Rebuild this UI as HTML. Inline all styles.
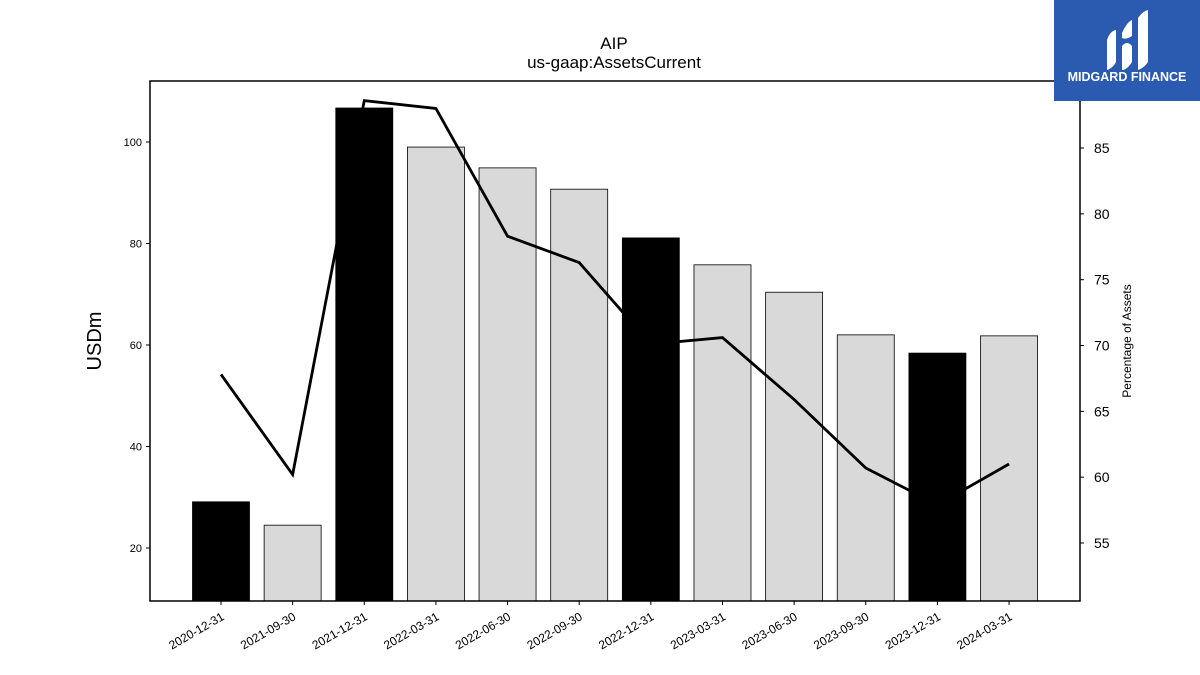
<!DOCTYPE html>
<html><head><meta charset="utf-8"><style>
body{margin:0;background:#fff;font-family:"Liberation Sans","DejaVu Sans",sans-serif}
svg{display:block}
</style></head><body>
<svg id="chart" width="1200" height="675" xmlns="http://www.w3.org/2000/svg">
<text x="614" y="49" text-anchor="middle" font-size="17">AIP</text>
<text x="614" y="68" text-anchor="middle" font-size="17">us-gaap:AssetsCurrent</text>
<text transform="translate(101,341) rotate(-90)" text-anchor="middle" font-size="20">USDm</text>
<text transform="translate(1131,341) rotate(-90)" text-anchor="middle" font-size="12">Percentage of Assets</text>
<g id="bars"></g><g id="line"></g><g id="axes"></g>
<rect x="150" y="81" width="930" height="520" fill="none" stroke="#000" stroke-width="1.5"/>
<g>
<rect x="1054" y="0" width="146" height="101" fill="#2b5bb0"/>
<path d="M1107 40 Q1110 31 1116 30 L1116 62 Q1113 68 1107 70 Z" fill="#fff"/>
<path d="M1122 33 Q1127 22 1132 20 L1132 36 Q1126 40 1122 38 Z M1122 46 Q1127 40 1132 46 L1132 62 Q1127 70 1122 70 Z" fill="#fff"/>
<path d="M1138 18 Q1143 11 1148 10 L1148 62 Q1144 68 1138 70 Z" fill="#fff"/>
<text x="1127" y="81" text-anchor="middle" font-size="12.5" font-weight="bold" fill="#fff">MIDGARD FINANCE</text>
</g>
</svg>
<script>
const categories=["2020-12-31","2021-09-30","2021-12-31","2022-03-31","2022-06-30","2022-09-30","2022-12-31","2023-03-31","2023-06-30","2023-09-30","2023-12-31","2024-03-31"];
const barValues=[29.1,24.5,106.7,99.0,94.9,90.7,81.1,75.8,70.4,62.0,58.4,61.8];
const annual=[true,false,true,false,false,false,true,false,false,false,true,false];
const pctValues=[67.8,60.2,88.6,88.0,78.3,76.3,70.1,70.6,65.9,60.7,57.9,61.0];
const leftTicks=[20,40,60,80,100];
const rightTicks=[55,60,65,70,75,80,85];
const NS="http://www.w3.org/2000/svg";
const X0=150,X1=1080,Y0=81,Y1=601;
const yL=v=>548-(v-20)*5.075;
const yR=v=>148-(v-85)*13.167;
const xC=i=>221+i*71.64;
const bw=57;
function mk(tag,attrs,parent){const e=document.createElementNS(NS,tag);for(const k in attrs)e.setAttribute(k,attrs[k]);parent.appendChild(e);return e;}
const bars=document.getElementById('bars'),line=document.getElementById('line'),axes=document.getElementById('axes');
barValues.forEach((v,i)=>{
 const r=mk('rect',{x:xC(i)-bw/2,y:yL(v),width:bw,height:Y1-yL(v),fill:annual[i]?'#000':'#d9d9d9',stroke:'#000','stroke-width':0.8},bars);
 
 
});
const pts=pctValues.map((v,i)=>xC(i)+','+yR(v)).join(' ');
const pl=mk('polyline',{points:pts,fill:'none',stroke:'#000','stroke-width':2.8,'stroke-linejoin':'miter'},line);


leftTicks.forEach(t=>{
 const y=yL(t);
 mk('line',{x1:X0-4,x2:X0,y1:y,y2:y,stroke:'#000'},axes);
 const tx=mk('text',{x:X0-8,y:y+4,'text-anchor':'end','font-size':11},axes);tx.textContent=t;
 
 
});
rightTicks.forEach(t=>{
 const y=yR(t);
 mk('line',{x1:X1,x2:X1+4,y1:y,y2:y,stroke:'#000'},axes);
 const tx=mk('text',{x:X1+14,y:y+5,'font-size':14},axes);tx.textContent=t;
 
 
});
categories.forEach((c,i)=>{
 const x=xC(i);
 mk('line',{x1:x,x2:x,y1:Y1,y2:Y1+4,stroke:'#000'},axes);
 const tx=mk('text',{transform:`translate(${x+4},${Y1+18}) rotate(-30)`,'text-anchor':'end','font-size':12},axes);tx.textContent=c;
 
 
});
</script>
</body></html>
